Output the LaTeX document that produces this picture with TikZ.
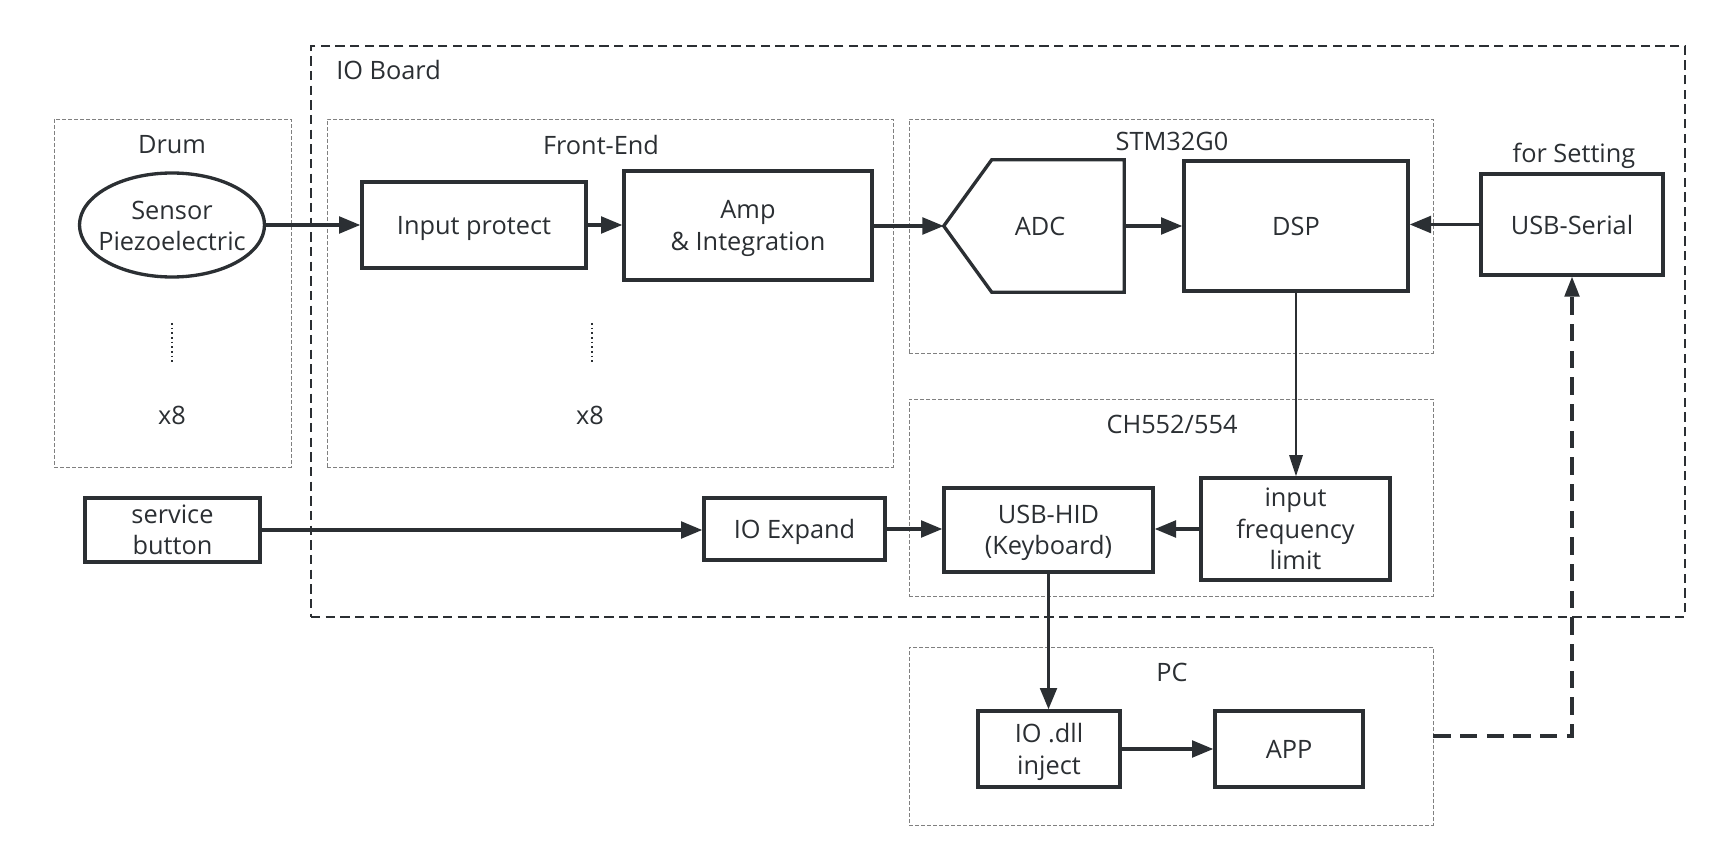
\documentclass[tikz,border=0pt]{standalone}
\usepackage{fontspec}
\setmainfont{Open Sans}
\usetikzlibrary{arrows.meta,shapes.geometric,calc}
\definecolor{ink}{HTML}{2B2F33}
\definecolor{grp}{HTML}{808080}
\begin{document}
\begin{tikzpicture}[x=0.75pt,y=-0.75pt,
  every node/.style={font=\fontsize{19}{23.5}\selectfont, text=ink},
  bsz/.style 2 args={minimum width=#1*0.75pt, minimum height=#2*0.75pt},
  blk/.style={draw=ink, line width=2.5pt, rectangle, align=center, inner sep=0pt, fill=white, text depth=0pt},
  grpbox/.style={draw=grp, line width=0.7pt, dash pattern=on 3pt off 1.5pt, inner sep=0pt, rectangle},
  conn/.style={draw=ink, line width=2.5pt, -{Triangle[length=16pt,width=12.5pt]}},
  thinconn/.style={draw=ink, line width=1.8pt, -{Triangle[length=16pt,width=10pt]}},
  fbconn/.style={draw=ink, line width=2.5pt, dash pattern=on 13pt off 7pt, -{Triangle[length=15pt,width=11pt]}},
  grplabel/.style={inner sep=0pt}]
\useasboundingbox (0,0) rectangle (1730,862);
% groups
\node[draw=ink, line width=1.3pt, dash pattern=on 7pt off 4pt, inner sep=0pt, bsz={1374}{571}] (ioboard) at (998,331.5) {};
\node[grpbox, bsz={237}{348}] (drum) at (172.5,293) {};
\node[grpbox, bsz={566}{348}] (frontend) at (610,293) {};
\node[grpbox, bsz={524}{234}] (stm) at (1171,236) {};
\node[grpbox, bsz={524}{197}] (ch) at (1171,497.5) {};
\node[grpbox, bsz={524}{178}] (pc) at (1171,736) {};
% group labels
\node[grplabel, anchor=west] (lio) at (336,70) {IO Board};
\node[grplabel] (ldrum) at (172,145) {Drum};
\node[grplabel] (lfe) at (601,145) {Front-End};
\node[grplabel] (lstm) at (1172,141) {STM32G0};
\node[grplabel] (lset) at (1574,156) {for Setting};
\node[grplabel] (lch) at (1172,424) {CH552/554};
\node[grplabel] (lpc) at (1172,672) {PC};
% blocks
\node[ellipse, draw=ink, line width=2.5pt, inner sep=0pt, bsz={185}{104}] (sensor) at (172,225) {};
\node[align=center, inner sep=0pt] (sensortext) at (172,226) {Sensor\\Piezoelectric};
\node[blk, bsz={224}{86}] (inprot) at (474,225) {Input protect};
\node[blk, bsz={248}{109}] (amp) at (748,225.5) {Amp\\\& Integration};
\node[inner sep=0pt, bsz={180}{132}] (adc) at (1034,226) {};
\draw[ink, line width=2.5pt, line join=miter] (adc.west) -- ($(adc.north west)+(48,0)$) -- (adc.north east) -- (adc.south east) -- ($(adc.south west)+(48,0)$) -- cycle;
\node[inner sep=0pt] (adctext) at (1040,226) {ADC};
\node[blk, bsz={224}{130}] (dsp) at (1296,226) {DSP};
\node[blk, bsz={182}{101}] (usbser) at (1572,224.5) {USB-Serial};
\node[blk, bsz={189}{102}] (infreq) at (1295.5,529) {input\\frequency\\limit};
\node[blk, bsz={209}{84}] (usbhid) at (1048.5,530) {USB-HID\\(Keyboard)};
\node[blk, bsz={181}{62}] (ioexp) at (794.5,529) {IO Expand};
\node[blk, bsz={175}{64}] (svc) at (172.5,530) {service\\button};
\node[blk, bsz={142}{76}] (iodll) at (1049,749) {IO .dll\\inject};
\node[blk, bsz={148}{76}] (app) at (1289,749) {APP};
% dots and multipliers
\draw[ink, line width=1.3pt, dash pattern=on 1.3pt off 2.2pt] (172,323) -- (172,362);
\draw[ink, line width=1.3pt, dash pattern=on 1.3pt off 2.2pt] (592,323) -- (592,362);
\node[grplabel] (x8a) at (172,415) {x8};
\node[grplabel] (x8b) at (590,415) {x8};
% connectors
\draw[conn] (sensor.east) -- (inprot.west);
\draw[conn] (inprot.east) -- (amp.west |- inprot.east);
\draw[conn] (amp.east |- adc.west) -- (adc.west);
\draw[conn] (adc.east) -- (dsp.west);
\draw[conn] (usbser.west) -- (dsp.east |- usbser.west);
\draw[thinconn] (dsp.south) -- (dsp.south |- infreq.north);
\draw[conn] (infreq.west) -- (usbhid.east |- infreq.west);
\draw[conn] (ioexp.east) -- (usbhid.west |- ioexp.east);
\draw[conn] (svc.east) -- (ioexp.west |- svc.east);
\draw[conn] (usbhid.south) -- (usbhid.south |- iodll.north);
\draw[conn] (iodll.east) -- (app.west);
\draw[fbconn] (pc.east) -- (pc.east -| usbser.south) -- (usbser.south);
\end{tikzpicture}
\end{document}
